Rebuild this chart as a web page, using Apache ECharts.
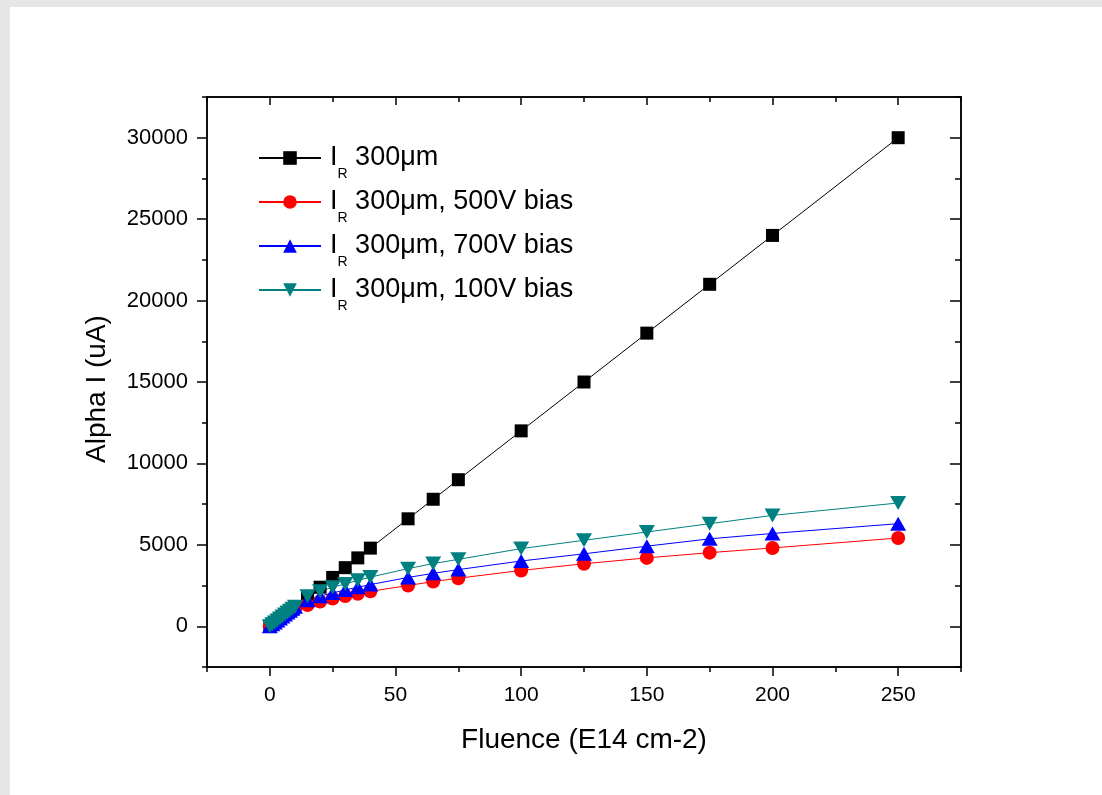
<!DOCTYPE html>
<html>
<head>
<meta charset="utf-8">
<script src="https://cdn.jsdelivr.net/npm/echarts@6/dist/echarts.min.js"></script>
<style>
html,body{margin:0;padding:0;background:#fff;}
#chart{width:1102px;height:795px;}
</style>
</head>
<body>
<div id="chart"></div>
<script>
// ---- data ----
const fluence = [0,1,2,3,4,5,6,7,8,9,10,15,20,25,30,35,40,55,65,75,100,125,150,175,200,250];
const ir300    = [0,120,240,360,480,600,720,840,960,1080,1200,1800,2400,3000,3600,4200,4800,6600,7800,9000,12000,15000,18000,21000,24000,30000];
const ir500V   = [0,120,240,360,480,600,720,840,960,1030,1090,1300,1520,1700,1860,2000,2150,2500,2750,2950,3430,3840,4200,4520,4810,5420];
const ir700V   = [0,120,240,360,480,600,720,840,960,1080,1200,1600,1850,2050,2230,2400,2560,3000,3250,3480,4010,4450,4920,5370,5700,6300];
const ir100V   = [0,120,240,360,480,600,720,840,960,1080,1200,1850,2150,2400,2600,2820,3020,3540,3850,4110,4770,5280,5790,6300,6810,7570];

const seriesNames = ['I_R 300\u03bcm', 'I_R 300\u03bcm, 500V bias', 'I_R 300\u03bcm, 700V bias', 'I_R 300\u03bcm, 100V bias'];

const xMajorTicks = [0,50,100,150,200,250];
const xMinorTicks = [-25,25,75,125,175,225,275];
const yMajorTicks = [0,5000,10000,15000,20000,25000,30000];
const yMinorTicks = [-2500,2500,7500,12500,17500,22500,27500,32500];

const xTitle = 'Fluence (E14 cm-2)';
const yTitle = 'Alpha I (uA)';

// ---- chart ----
const FONT = "'Liberation Sans', Arial, Helvetica, sans-serif";
const chart = echarts.init(document.getElementById('chart'), null, {renderer: 'canvas'});

function pairs(xs, ys) { return xs.map((x, i) => [x, ys[i]]); }
function plain(v) { return String(v); }

const axisLineStyle = {color: '#000', width: 1.5};
const X_MIN = -25, X_MAX = 275, Y_MIN = -2500, Y_MAX = 32500;

function xAx(pos, ticks, len, inside, withLabel) {
  return {
    type: 'value', gridIndex: 0, position: pos, min: X_MIN, max: X_MAX,
    axisLine: {show: true, onZero: false, lineStyle: axisLineStyle},
    axisTick: {show: true, inside: inside, length: len, customValues: ticks, lineStyle: {color: '#000', width: 1.5}},
    axisLabel: withLabel ? {show: true, customValues: xMajorTicks, formatter: plain, margin: 18, fontFamily: FONT, fontSize: 21, color: '#000'} : {show: false},
    splitLine: {show: false}
  };
}
function yAx(pos, ticks, len, inside, withLabel) {
  return {
    type: 'value', gridIndex: 0, position: pos, min: Y_MIN, max: Y_MAX,
    axisLine: {show: true, onZero: false, lineStyle: axisLineStyle},
    axisTick: {show: true, inside: inside, length: len, customValues: ticks, lineStyle: {color: '#000', width: 1.5}},
    axisLabel: withLabel ? {show: true, customValues: yMajorTicks, formatter: plain, margin: 19, fontFamily: FONT, fontSize: 22, color: '#000'} : {show: false},
    splitLine: {show: false}
  };
}

const xBottom = xAx('bottom', xMajorTicks, 9, false, true);
xBottom.name = xTitle;
xBottom.nameLocation = 'middle';
xBottom.nameGap = 58;
xBottom.nameTextStyle = {fontFamily: FONT, fontSize: 28, lineHeight: 30, color: '#000'};

const yLeft = yAx('left', yMajorTicks, 10, false, true);
yLeft.name = yTitle;
yLeft.nameLocation = 'middle';
yLeft.nameGap = 95;
yLeft.nameTextStyle = {fontFamily: FONT, fontSize: 28, lineHeight: 30, color: '#000', padding: [0, 14, 0, 0]};

const downTri = 'path://M0,0 L16,0 L8,14 Z';

function mkSeries(name, ys, color, symbol, size) {
  return {
    type: 'line', name: name, xAxisIndex: 0, yAxisIndex: 0,
    data: pairs(fluence, ys),
    symbol: symbol, symbolSize: size, showSymbol: true,
    lineStyle: {color: color, width: 1},
    itemStyle: {color: color, borderWidth: 0},
    emphasis: {disabled: true},
    z: 3
  };
}

const option = {
  animation: false,
  backgroundColor: '#ffffff',
  grid: {left: 207, top: 97, width: 754, height: 570, containLabel: false, outerBoundsMode: 'none'},
  xAxis: [
    xBottom,
    xAx('bottom', xMinorTicks, 5, false, false),
    xAx('top', xMajorTicks, 8, true, false),
    xAx('top', xMinorTicks, 5, true, false)
  ],
  yAxis: [
    yLeft,
    yAx('left', yMinorTicks, 5, false, false),
    yAx('right', yMajorTicks, 11, true, false),
    yAx('right', yMinorTicks, 6, true, false)
  ],
  legend: {
    orient: 'vertical', left: 253, top: 133,
    itemWidth: 62, itemHeight: 17, itemGap: 1,
    data: seriesNames,
    formatter: function (name) {
      const rest = name.replace(/^I_R/, '');
      return '{f|I}{s|R}{a|' + rest + '}';
    },
    textStyle: {
      fontFamily: FONT, color: '#000',
      rich: {
        f: {fontFamily: FONT, fontSize: 27, lineHeight: 40, verticalAlign: 'middle', color: '#000', padding: [0, 0, 0, 4]},
        a: {fontFamily: FONT, fontSize: 27, lineHeight: 40, verticalAlign: 'middle', color: '#000'},
        s: {fontFamily: FONT, fontSize: 14, lineHeight: 14, verticalAlign: 'top', color: '#000', padding: [29, 0, 0, 0]}
      }
    }
  },
  graphic: [
    {type: 'rect', shape: {x: 0, y: 0, width: 10, height: 795}, style: {fill: '#e6e6e6'}, silent: true, z: 100},
    {type: 'rect', shape: {x: 0, y: 0, width: 1102, height: 7}, style: {fill: '#e6e6e6'}, silent: true, z: 100}
  ],
  series: [
    mkSeries(seriesNames[0], ir300, '#000000', 'rect', 13),
    mkSeries(seriesNames[1], ir500V, '#ff0000', 'circle', 14),
    mkSeries(seriesNames[2], ir700V, '#0000ff', 'triangle', [16, 14]),
    mkSeries(seriesNames[3], ir100V, '#008080', downTri, [16, 14])
  ]
};
chart.setOption(option);
</script>
</body>
</html>
